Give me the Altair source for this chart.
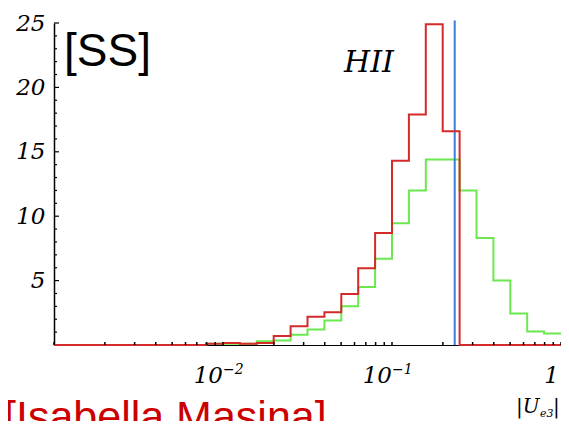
import altair as alt
import pandas as pd

# ---- data ----
red_edges = [-2.1, -2.0, -1.9, -1.8, -1.7, -1.6, -1.5, -1.4, -1.3, -1.2, -1.1, -1.0, -0.9, -0.8, -0.7]
red_vals = [0.1, 0.15, 0.1, 0.15, 0.7, 1.45, 2.2, 2.55, 3.95, 5.95, 8.7, 14.3, 17.9, 24.9, 16.6]

green_edges = [-2.1, -2.0, -1.9, -1.8, -1.7, -1.6, -1.5, -1.4, -1.3, -1.2, -1.1, -1.0,
               -0.9, -0.8, -0.7, -0.6, -0.5, -0.4, -0.3, -0.2, -0.1]
green_vals = [0.1, 0.1, 0.1, 0.3, 0.35, 0.8, 1.2, 1.9, 3.0, 4.5, 6.7, 9.45,
              12.0, 14.4, 14.4, 12.0, 8.3, 5.0, 2.45, 1.05, 0.9]

bin_width = 0.1
x_min, x_max = 0.001, 1.0
bound_x = [0.235]

y_major = [5, 10, 15, 20, 25]
y_minor = [1, 2, 3, 4, 6, 7, 8, 9, 11, 12, 13, 14, 16, 17, 18, 19, 21, 22, 23, 24]
x_decades = [0.001, 0.01, 0.1]
x_mults = [1, 2, 3, 4, 5, 6, 7, 8, 9]

xlab_pos = [0.01, 0.1]
xlab_base = ["10", "10"]
xlab_exp = ["\u22122", "\u22121"]

W, H = 507, 322
RED = "#d42a2a"
GREEN = "#6be84f"
BLUE = "#3b7dd8"
SERIF = "DejaVu Serif"
SANS = "Liberation Sans"


def steps(edges, vals):
    rows = [{"x": x_min, "y": 0.0}]
    for e, v in zip(edges, vals):
        rows.append({"x": 10 ** e, "y": v})
    last = edges[-1] + bin_width
    if last < -1e-6:
        rows.append({"x": 10 ** last, "y": 0.0})
        rows.append({"x": x_max, "y": 0.0})
    else:
        rows.append({"x": x_max, "y": vals[-1]})
    return pd.DataFrame(rows)


xs = alt.Scale(type="log", domain=[x_min, x_max])
ys = alt.Scale(domain=[0, 25], nice=False)

red_df = steps(red_edges, red_vals)
green_df = steps(green_edges, green_vals)

green = alt.Chart(green_df).mark_line(interpolate="step-after", color=GREEN, strokeWidth=2).encode(
    x=alt.X("x:Q", scale=xs,
            axis=alt.Axis(labels=False, ticks=False, grid=False, title=None,
                          domainColor="black", domainWidth=1)),
    y=alt.Y("y:Q", scale=ys,
            axis=alt.Axis(values=y_major, ticks=False, tickSize=0, labelPadding=9, grid=False,
                          title=None, labelFont=SERIF, labelFontStyle="italic", labelFontSize=23,
                          labelColor="black", domainColor="black", domainWidth=1.5)),
)

blue = alt.Chart(pd.DataFrame({"x": bound_x, "y0": [0], "y1": [25.2]})).mark_rule(
    color=BLUE, strokeWidth=2).encode(x=alt.X("x:Q", scale=xs), y=alt.Y("y0:Q", scale=ys), y2="y1:Q")

red = alt.Chart(red_df).mark_line(interpolate="step-after", color=RED, strokeWidth=2).encode(
    x=alt.X("x:Q", scale=xs), y=alt.Y("y:Q", scale=ys))

xt = pd.DataFrame({"x": [d * m for d in x_decades for m in x_mults] + [1.0]})
xticks = alt.Chart(xt).mark_rule(color="black", strokeWidth=1.5).encode(
    x=alt.X("x:Q", scale=xs), y=alt.value(H), y2=alt.value(H - 3))

ymaj = alt.Chart(pd.DataFrame({"v": y_major})).mark_rule(color="black", strokeWidth=1.2).encode(
    y=alt.Y("v:Q", scale=ys), x=alt.value(0), x2=alt.value(5))
ymin = alt.Chart(pd.DataFrame({"v": y_minor})).mark_rule(color="black", strokeWidth=1.2).encode(
    y=alt.Y("v:Q", scale=ys), x=alt.value(0), x2=alt.value(3))

xl = pd.DataFrame({"x": xlab_pos, "base": xlab_base, "exp": xlab_exp})
xl_base = alt.Chart(xl).mark_text(font=SERIF, fontStyle="italic", fontSize=23, align="right",
                                  baseline="alphabetic", color="black").encode(
    x=alt.X("x:Q", scale=xs), y=alt.value(H + 38), text="base:N")
xl_exp = alt.Chart(xl).mark_text(font=SERIF, fontStyle="italic", fontSize=14, align="left",
                                 baseline="alphabetic", color="black").encode(
    x=alt.X("x:Q", scale=xs), y=alt.value(H + 29), text="exp:N")
xl_one = alt.Chart(pd.DataFrame({"x": [1.0], "t": ["1"]})).mark_text(
    font=SERIF, fontStyle="italic", fontSize=23, align="right", baseline="alphabetic", dx=-2,
    color="black").encode(x=alt.X("x:Q", scale=xs), y=alt.value(H + 38), text="t:N")

ann = pd.DataFrame({"t": ["x"]})
ss = alt.Chart(ann).mark_text(text="[SS]", font=SANS, fontSize=46, align="left",
                              baseline="alphabetic", color="black").encode(
    x=alt.value(10), y=alt.value(43))
hii = alt.Chart(ann).mark_text(text="HII", font=SERIF, fontStyle="italic", fontSize=30,
                               align="left", baseline="alphabetic", color="black").encode(
    x=alt.value(290), y=alt.value(49))
author = alt.Chart(ann).mark_text(text="[Isabella Masina]", font=SANS, fontSize=43,
                                  align="left", baseline="alphabetic", color="#cc0000").encode(
    x=alt.value(-50), y=alt.value(408))
u1 = alt.Chart(ann).mark_text(text="|U", font=SERIF, fontStyle="italic", fontSize=20,
                              align="left", baseline="alphabetic", color="black").encode(
    x=alt.value(462), y=alt.value(390))
u2 = alt.Chart(ann).mark_text(text="e3", font=SERIF, fontStyle="italic", fontSize=11,
                              align="left", baseline="alphabetic", color="black").encode(
    x=alt.value(486), y=alt.value(394))
u3 = alt.Chart(ann).mark_text(text="|", font=SERIF, fontStyle="italic", fontSize=20,
                              align="left", baseline="alphabetic", color="black").encode(
    x=alt.value(499), y=alt.value(390))

chart = alt.layer(green, blue, red, xticks, ymaj, ymin, xl_base, xl_exp, xl_one,
                  ss, hii, author, u1, u2, u3).properties(
    width=W, height=H,
    autosize=alt.AutoSizeParams(type="none"),
    padding={"left": 46, "top": 15, "right": 0, "bottom": 76},
    background="white",
).configure_view(stroke=None)

chart.save("out.html", embed_options={"renderer": "svg", "actions": False})
